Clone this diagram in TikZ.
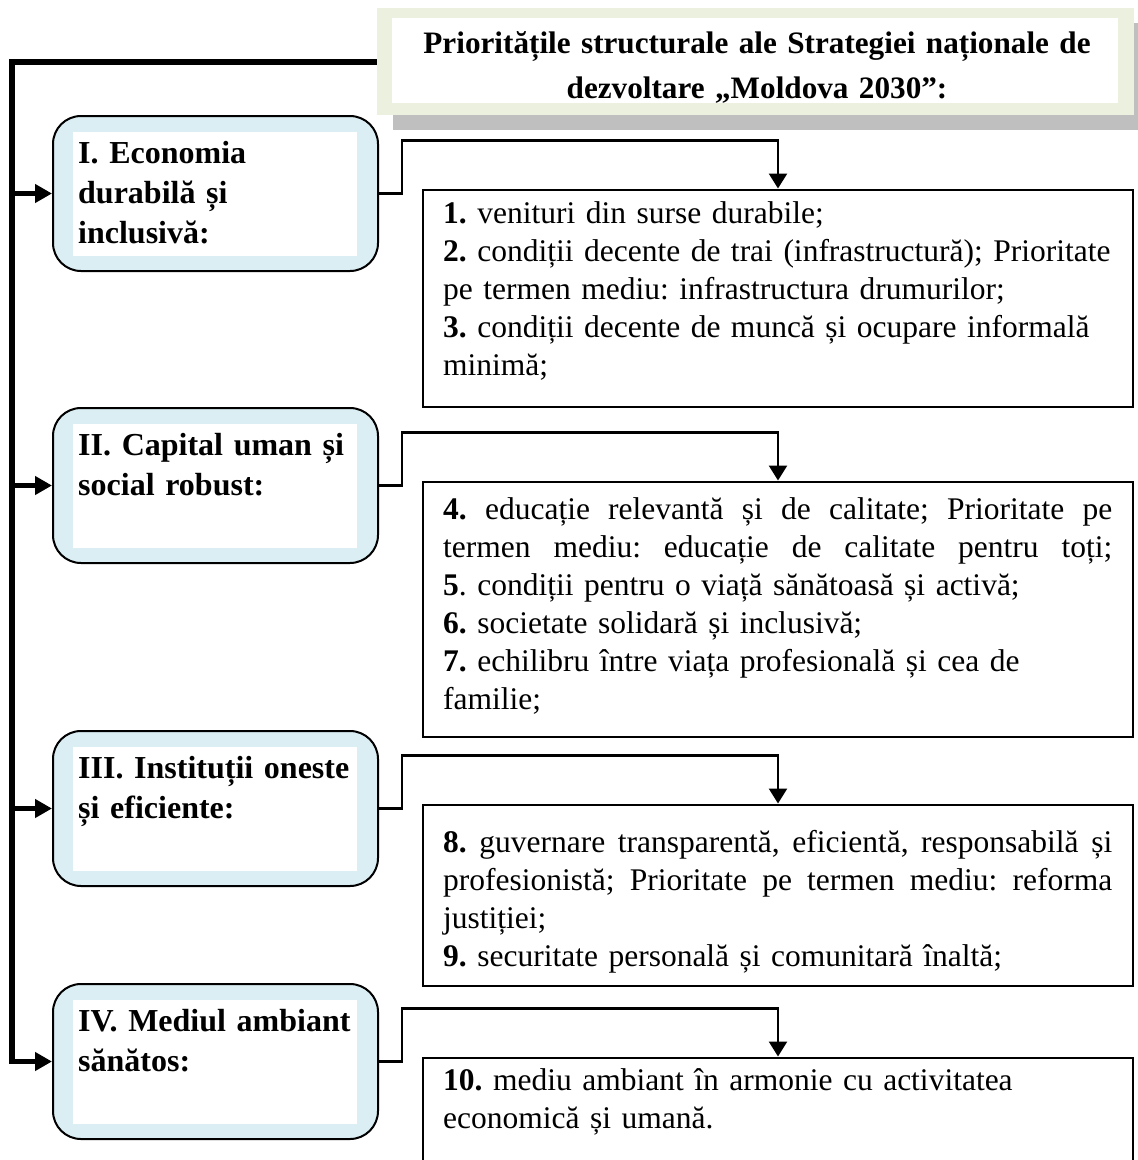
\documentclass[tikz,border=0pt]{standalone}
\usepackage{fontspec}
\setmainfont{Liberation Serif}
\usetikzlibrary{arrows.meta}

\definecolor{boxblue}{HTML}{DAEEF3}
\definecolor{titlegreen}{HTML}{EBF1DE}
\definecolor{shadowgray}{HTML}{BFBFBF}

% a line stretched to the full text width of an objectives box
\newcommand{\jline}[1]{\leavevmode\hbox to 669pt{\spaceskip=0.25em plus 1fil\relax #1}}

\begin{document}
\frenchspacing
\begin{tikzpicture}[x=1pt,y=-1pt,
  trunk/.style={line width=6pt, line join=miter, line cap=rect},
  branch/.style={line width=5pt, -{Triangle[length=17pt,width=18pt]}},
  conn/.style={line width=2.5pt, line join=miter, -{Triangle[length=15pt,width=18pt]}},
  groupbox/.style={draw, line width=2pt, fill=boxblue, rounded corners=28pt,
    minimum width=325pt, minimum height=155pt, anchor=north west, inner sep=0pt},
  itembox/.style={draw, line width=2pt, minimum width=710pt, anchor=north west, inner sep=0pt},
  grouptext/.style={anchor=north west, inner sep=0pt, text width=285pt, align=left,
    font=\fontsize{32}{40}\selectfont\bfseries},
  itemtext/.style={anchor=north west, inner sep=0pt, text width=690pt, align=left,
    font=\fontsize{31.5}{38}\selectfont},
  titletext/.style={anchor=north, inner sep=0pt, text width=740pt, align=center,
    font=\fontsize{31.2}{45}\selectfont\bfseries},
]
\useasboundingbox (0,0) rectangle (1138,1160);
\clip (0,0) rectangle (1138,1160);

% main trunk on the left
\coordinate (trunk) at (12,62);
\coordinate (trunkend) at (377,62);

% title panel with its shadow
\fill[shadowgray] (393,23) rectangle (1160,130);
\draw[trunk] (trunkend) -- (trunk) -- (12,1060.5);
\fill[titlegreen] (377,8) rectangle (1134,115);
\fill[white] (392,18) rectangle (1118,103);
\node[titletext] (title) at (757,22)
  {\strut Prioritățile structurale ale Strategiei naționale de\\dezvoltare „Moldova 2030”:};

% the four priority groups
\node[groupbox] (b1) at (52,115) {};
\node[groupbox] (b2) at (52,407) {};
\node[groupbox] (b3) at (52,730) {};
\node[groupbox] (b4) at (52,983) {};
\foreach \b in {b1,b2,b3,b4}{
  \fill[white] ([shift={(21,17)}]\b.north west) rectangle ([shift={(-22,-16)}]\b.south east);
  \draw[branch] (\b.west -| trunk) -- (\b.west);
}
\node[grouptext] (g1) at ([shift={(26,20)}]b1.north west)
  {\strut I. Economia\\durabilă și\\inclusivă:};
\node[grouptext] (g2) at ([shift={(26,20)}]b2.north west)
  {\strut II. Capital uman și\\social robust:};
\node[grouptext] (g3) at ([shift={(26,20)}]b3.north west)
  {\strut III. Instituții oneste\\și eficiente:};
\node[grouptext] (g4) at ([shift={(26,20)}]b4.north west)
  {\strut IV. Mediul ambiant\\sănătos:};

% the objectives of each group
\node[itembox, minimum height=217pt] (t1) at (422,188.5) {};
\node[itembox, minimum height=255pt] (t2) at (422,480.5) {};
\node[itembox, minimum height=181pt] (t3) at (422,803.5) {};
\node[itembox, minimum height=140pt] (t4) at (422,1056.5) {};

\node[itemtext] (i1) at ([shift={(21,8)}]t1.north west)
  {\strut\textbf{1.} venituri din surse durabile;\\
   \textbf{2.} condiții decente de trai (infrastructură); Prioritate\\
   pe termen mediu: infrastructura drumurilor;\\
   \textbf{3.} condiții decente de muncă și ocupare informală\\
   minimă;};
\node[itemtext] (i2) at ([shift={(21,12)}]t2.north west)
  {\strut\jline{\textbf{4.} educație relevantă și de calitate; Prioritate pe}\\
   \jline{termen mediu: educație de calitate pentru toți;}\\
   \textbf{5}. condiții pentru o viață sănătoasă și activă;\\
   \textbf{6.} societate solidară și inclusivă;\\
   \textbf{7.} echilibru între viața profesională și cea de\\
   familie;};
\node[itemtext] (i3) at ([shift={(21,22)}]t3.north west)
  {\strut\jline{\textbf{8.} guvernare transparentă, eficientă, responsabilă și}\\
   \jline{profesionistă; Prioritate pe termen mediu: reforma}\\
   justiției;\\
   \textbf{9.} securitate personală și comunitară înaltă;};
\node[itemtext] (i4) at ([shift={(21,7)}]t4.north west)
  {\strut\textbf{10.} mediu ambiant în armonie cu activitatea\\
   economică și umană.};

% links from each group to its objectives
\foreach \b/\t in {b1/t1,b2/t2,b3/t3,b4/t4}{
  \draw[conn] (\b.east) -- ++(23,0) -- ++(0,-53) -| ([xshift=356pt]\t.north west);
}
\end{tikzpicture}
\end{document}
